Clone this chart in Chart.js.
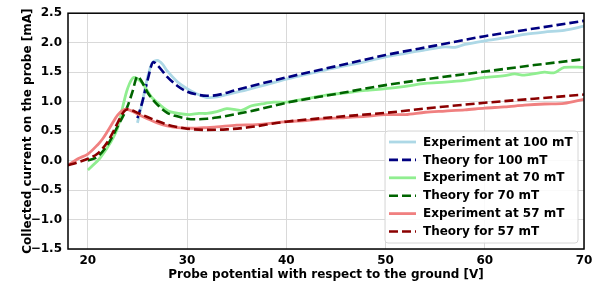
<!DOCTYPE html>
<html>
<head>
<meta charset="utf-8">
<script src="https://cdn.jsdelivr.net/npm/chart.js@4"></script>
<style>
  html, body { margin: 0; padding: 0; background: #fff; }
</style>
</head>
<body>
<canvas id="myChart" width="604" height="287"></canvas>
<script>
// data
const xExp100 = [25, 25.5, 26, 26.5, 27, 27.5, 28, 29, 30, 31, 32, 33, 34, 35, 36, 38, 40, 42, 44, 46, 48, 50, 52, 54, 56, 57, 58, 60, 62, 64, 66, 68, 70];
const yExp100 = [0.64, 1.0, 1.4, 1.66, 1.70, 1.64, 1.52, 1.34, 1.22, 1.13, 1.07, 1.08, 1.12, 1.16, 1.20, 1.29, 1.38, 1.46, 1.54, 1.61, 1.68, 1.76, 1.82, 1.88, 1.93, 1.92, 1.97, 2.03, 2.08, 2.14, 2.18, 2.21, 2.28];

const xTh100 = [25, 25.5, 26, 26.6, 27, 28, 29, 30, 31, 32, 33, 35, 40, 45, 50, 55, 60, 65, 70];
const yTh100 = [0.72, 1.0, 1.35, 1.67, 1.62, 1.42, 1.27, 1.17, 1.12, 1.10, 1.11, 1.20, 1.41, 1.60, 1.79, 1.95, 2.11, 2.24, 2.37];

const xExp70 = [20, 20.7, 21.3, 22.3, 23, 23.5, 24, 24.6, 25.4, 26.4, 27.3, 28.1, 29.1, 30.2, 31.2, 32, 33, 34, 35, 35.5, 36.5, 37.5, 38.7, 40, 42, 44, 46, 48, 50, 52, 54, 56, 58, 60, 62, 63, 64, 66, 67, 68, 70];
const yExp70 = [-0.16, -0.05, 0.06, 0.31, 0.55, 0.90, 1.22, 1.41, 1.33, 1.08, 0.94, 0.84, 0.80, 0.78, 0.80, 0.80, 0.83, 0.88, 0.86, 0.85, 0.93, 0.96, 0.99, 0.99, 1.05, 1.11, 1.15, 1.19, 1.22, 1.26, 1.31, 1.33, 1.36, 1.41, 1.44, 1.47, 1.45, 1.50, 1.49, 1.58, 1.58];

const xTh70 = [20, 21, 22, 23, 24, 24.5, 25, 25.5, 26, 27, 28, 29, 30, 31, 32, 33, 35, 37, 40, 45, 50, 55, 60, 65, 70];
const yTh70 = [0.0, 0.07, 0.27, 0.58, 0.92, 1.17, 1.43, 1.32, 1.16, 0.95, 0.81, 0.75, 0.71, 0.70, 0.71, 0.73, 0.79, 0.86, 0.98, 1.13, 1.28, 1.40, 1.51, 1.62, 1.72];

const xExp57 = [18, 19, 20, 21, 21.5, 22, 22.5, 23, 23.5, 24, 25, 26, 27, 28, 29, 30, 31, 32, 33, 35, 37, 40, 42, 44, 46, 48, 50, 52, 54, 56, 58, 60, 62, 64, 66, 68, 70];
const yExp57 = [-0.08, 0.03, 0.11, 0.27, 0.37, 0.50, 0.64, 0.77, 0.85, 0.87, 0.79, 0.71, 0.64, 0.59, 0.56, 0.55, 0.55, 0.56, 0.57, 0.60, 0.61, 0.66, 0.68, 0.71, 0.73, 0.75, 0.78, 0.78, 0.82, 0.84, 0.86, 0.89, 0.91, 0.94, 0.96, 0.97, 1.04];

const xTh57 = [18, 19, 20, 21, 22, 22.5, 23, 23.5, 24, 24.5, 25, 26, 27, 28, 29, 30, 32, 34, 36, 40, 45, 50, 55, 60, 65, 70];
const yTh57 = [-0.08, -0.03, 0.03, 0.12, 0.32, 0.47, 0.64, 0.80, 0.87, 0.85, 0.81, 0.74, 0.67, 0.61, 0.57, 0.54, 0.52, 0.53, 0.56, 0.66, 0.74, 0.81, 0.90, 0.98, 1.05, 1.12];

const xTicks = [20, 30, 40, 50, 60, 70];
const yTicks = [-1.5, -1.0, -0.5, 0.0, 0.5, 1.0, 1.5, 2.0, 2.5];

const seriesLabels = [
  "Experiment at 100 mT",
  "Theory for 100 mT",
  "Experiment at 70 mT",
  "Theory for 70 mT",
  "Experiment at 57 mT",
  "Theory for 57 mT",
];

const toPoints = (xs, ys) => xs.map((x, i) => ({ x: x, y: ys[i] }));

const FONT = "'DejaVu Sans', sans-serif";

function expSet(label, xs, ys, color, order) {
  return {
    label,
    data: toPoints(xs, ys),
    borderColor: color,
    borderWidth: 2.8,
    pointRadius: 0,
    tension: 0.3,
    order,
  };
}

function thSet(label, xs, ys, color, order) {
  return {
    label,
    data: toPoints(xs, ys),
    borderColor: color,
    borderWidth: 2.6,
    borderDash: [9, 4],
    pointRadius: 0,
    cubicInterpolationMode: "monotone",
    order,
  };
}

// frame round the plot and a matplotlib-like legend inside it
const framePlugin = {
  id: "frame",
  afterDatasetsDraw(chart) {
    const { ctx, chartArea: a } = chart;
    ctx.save();
    ctx.strokeStyle = "#000";
    ctx.lineWidth = 1.5;
    ctx.strokeRect(a.left, a.top, a.right - a.left, a.bottom - a.top);
    ctx.restore();
  },
  afterDraw(chart) {
    const { ctx, chartArea: a } = chart;
    const w = 193, h = 112;
    const x0 = a.right - 6 - w;
    const y0 = a.bottom - 6 - h;
    ctx.save();
    ctx.beginPath();
    ctx.roundRect(x0, y0, w, h, 3);
    ctx.fillStyle = "rgba(255,255,255,0.85)";
    ctx.fill();
    ctx.strokeStyle = "#d6d6d6";
    ctx.lineWidth = 1;
    ctx.stroke();
    ctx.font = "bold 12px " + FONT;
    ctx.textBaseline = "middle";
    ctx.fillStyle = "#000";
    chart.data.datasets.forEach((ds, i) => {
      const cy = y0 + 11 + i * 17.9;
      ctx.beginPath();
      ctx.strokeStyle = ds.borderColor;
      ctx.lineWidth = ds.borderWidth;
      ctx.setLineDash(ds.borderDash || []);
      ctx.moveTo(x0 + 4, cy);
      ctx.lineTo(x0 + 31, cy);
      ctx.stroke();
      ctx.setLineDash([]);
      ctx.fillText(ds.label, x0 + 38, cy + 0.5);
    });
    ctx.restore();
  },
};

new Chart(document.getElementById("myChart"), {
  type: "line",
  data: {
    datasets: [
      expSet(seriesLabels[0], xExp100, yExp100, "#add8e6", 6),
      thSet(seriesLabels[1], xTh100, yTh100, "#000080", 5),
      expSet(seriesLabels[2], xExp70, yExp70, "#90ee90", 4),
      thSet(seriesLabels[3], xTh70, yTh70, "#006400", 3),
      expSet(seriesLabels[4], xExp57, yExp57, "#f08080", 2),
      thSet(seriesLabels[5], xTh57, yTh57, "#8b0000", 1),
    ],
  },
  plugins: [framePlugin],
  options: {
    responsive: false,
    animation: false,
    layout: { padding: { top: 3, right: 20, left: 0, bottom: 0 } },
    plugins: {
      legend: { display: false },
      tooltip: { enabled: false },
    },
    scales: {
      x: {
        type: "linear",
        min: 18,
        max: 70,
        afterBuildTicks: (scale) => {
          scale.ticks = xTicks.map((v) => ({ value: v }));
        },
        afterFit: (scale) => {
          scale.height = 38;
        },
        grid: { color: "#d9d9d9", lineWidth: 1, drawTicks: false },
        border: { display: false },
        ticks: {
          color: "#000",
          padding: 5,
          maxRotation: 0,
          font: { family: FONT, size: 12, weight: "bold" },
          callback: (v) => String(v),
        },
        title: {
          display: true,
          text: "Probe potential with respect to the ground [V]",
          color: "#000",
          padding: { top: 6, bottom: 5 },
          font: { family: FONT, size: 12, weight: "bold" },
        },
      },
      y: {
        min: -1.5,
        max: 2.5,
        afterBuildTicks: (scale) => {
          scale.ticks = yTicks.map((v) => ({ value: v }));
        },
        afterFit: (scale) => {
          scale.width = 68;
        },
        grid: { color: "#d9d9d9", lineWidth: 1, drawTicks: false },
        border: { display: false },
        ticks: {
          color: "#000",
          padding: 6,
          font: { family: FONT, size: 12, weight: "bold" },
          callback: (v) => v.toFixed(1).replace("-", "\u2212"),
        },
        title: {
          display: true,
          text: "Collected current on the probe [mA]",
          color: "#000",
          padding: { top: 21, bottom: 0 },
          font: { family: FONT, size: 12, weight: "bold" },
        },
      },
    },
  },
});
</script>
</body>
</html>
